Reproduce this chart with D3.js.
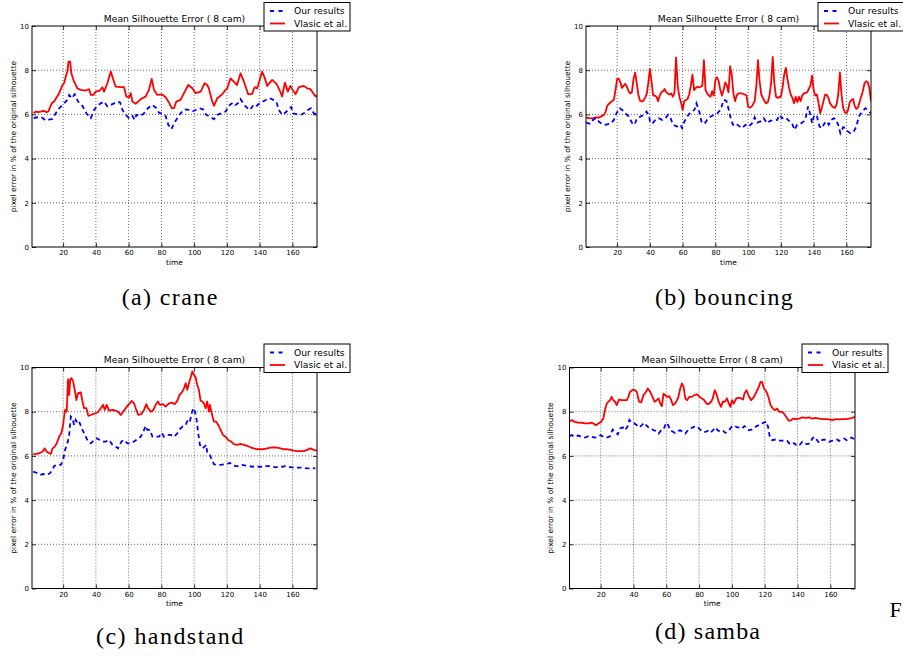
<!DOCTYPE html>
<html>
<head>
<meta charset="utf-8">
<script src="https://cdn.jsdelivr.net/npm/d3@7"></script>
<style>
  body { margin: 0; background: #fff; }
  svg { display: block; }
</style>
</head>
<body>
<div id="chart"></div>
<script>
//tick labels
const xTicks = [20, 40, 60, 80, 100, 120, 140, 160];
const yTicks = [0, 2, 4, 6, 8, 10];
const seriesNames = ["Our results", "Vlasic et al."];
const titleText = "Mean Silhouette Error ( 8 cam)";
const captions = ["(a) crane", "(b) bouncing", "(c) handstand", "(d) samba"];

//values: [frame, error]
const craneOurs = [[2,5.83],[4.3,5.87],[6.8,5.87],[9.4,5.72],[12.1,5.78],[13.5,5.8],[15.5,6.05],[17.6,6.28],[20.6,6.5],[22.6,6.66],[23.7,6.88],[25.3,6.73],[27.1,6.91],[29.1,6.58],[31.8,6.39],[34.2,6.05],[36.9,5.83],[38.9,6.2],[40.9,6.39],[43,6.5],[45,6.58],[47,6.36],[49.1,6.43],[51.1,6.5],[53.1,6.58],[54.8,6.54],[56.2,6.2],[58.2,5.98],[60.2,5.83],[62.3,5.93],[63.7,5.75],[64.7,5.98],[67.4,5.93],[69.4,6.05],[71.8,6.28],[74.5,6.43],[76.9,6.28],[78.5,6.08],[81,6.02],[82.6,5.93],[84.2,5.53],[86.1,5.33],[87.7,5.6],[89.7,5.83],[91.7,6.05],[94.2,6.23],[96.8,6.2],[98.9,6.13],[100.9,6.2],[103.3,6.28],[105.4,6.23],[107.4,5.98],[109.6,5.9],[112.1,5.78],[114.1,5.98],[116.5,6.05],[119.2,6.13],[121.2,6.39],[123.7,6.54],[125.3,6.43],[126.7,6.5],[128.3,6.69],[130,6.5],[131.8,6.33],[134,6.2],[135.9,6.39],[137.5,6.33],[139.5,6.48],[142,6.58],[144,6.66],[146.2,6.73],[148.3,6.66],[150.3,6.54],[151.7,6.2],[153.7,5.98],[155.8,6.08],[157.2,6.2],[159.2,6.33],[160.4,6.05],[162.9,6.0],[164.9,5.98],[167,6.05],[169.4,6.2],[171.4,6.28],[173,6.05],[175,6.0]];
const craneVlasic = [[2,6.05],[3.3,6.13],[5,6.1],[8,6.16],[10,6.1],[11,6.13],[13,6.5],[14.5,6.58],[17.6,6.96],[19.6,7.33],[20.6,7.41],[21.6,7.71],[22.6,7.94],[23.3,8.39],[24.3,8.39],[25,7.86],[26.7,7.48],[28.7,7.18],[30.8,7.11],[33.8,7.08],[35.9,7.14],[36.9,6.88],[38.5,6.88],[39.9,7.03],[42.4,7.08],[44,7.23],[45,7.03],[47,7.41],[49.1,7.94],[50.7,7.56],[52.1,7.26],[55.2,7.23],[57.2,7.23],[58.6,6.81],[60.2,6.76],[61.3,6.96],[62.3,6.58],[64.3,6.48],[67.4,6.69],[70.4,6.81],[72.4,7.11],[74.1,7.61],[75.5,7.11],[77.5,6.88],[80.2,6.91],[82.6,6.78],[84.6,6.54],[86.3,6.28],[87.7,6.28],[89.1,6.58],[91.7,6.66],[93.8,6.96],[96.4,7.33],[98.9,7.18],[100.9,6.96],[104,7.03],[106.4,7.41],[108,7.33],[109,7.18],[110.7,6.66],[112.1,6.39],[114.1,6.73],[116.7,6.88],[119.2,7.11],[120.2,7.18],[122.2,7.63],[124.2,7.48],[126.2,7.33],[128.3,7.86],[130.4,7.48],[133,6.91],[135.4,6.93],[136.9,7.23],[138.5,7.18],[141.5,7.94],[143.2,7.63],[144.6,7.29],[147.6,7.56],[150.3,7.38],[152.3,7.08],[153.7,6.81],[155.4,7.44],[157.2,7.03],[158.8,7.29],[160.2,7.11],[161.9,6.91],[163.9,7.23],[167,7.29],[169,7.18],[171,7.14],[174.1,6.81],[175,6.84]];

const bouncingOurs = [[1,5.63],[3.7,5.57],[5.3,5.75],[6.8,5.83],[8.8,5.68],[10.8,5.56],[12.9,5.53],[14.9,5.57],[16.3,5.6],[18,5.75],[19.6,6.05],[21.6,6.28],[23.1,6.2],[25.1,6.05],[27.1,5.9],[29.2,5.6],[30.6,5.53],[32.2,5.83],[34.2,5.9],[36.3,5.98],[37.9,6.13],[39.3,5.98],[40.3,5.6],[42,5.63],[43.4,5.75],[45.4,5.83],[47.5,5.75],[49.5,5.83],[51.1,5.98],[52.6,5.83],[54.2,5.53],[56.6,5.45],[58.7,5.53],[59.7,5.38],[61.1,5.68],[62.7,5.9],[65.2,6.13],[67.2,6.2],[68.4,6.5],[69.9,6.2],[71.5,5.68],[73.3,5.57],[74.9,5.75],[77,5.9],[79,5.98],[81.1,6.05],[83.1,6.2],[85.1,6.66],[86.7,6.61],[88.2,6.2],[89.6,5.75],[90.8,5.53],[92.2,5.6],[94.3,5.48],[96.3,5.38],[98.3,5.53],[100.4,5.45],[102.4,5.6],[104,5.87],[105.5,5.63],[107.5,5.68],[109.5,5.83],[111.6,5.6],[113.6,5.72],[115.6,5.72],[117.7,5.75],[119.1,5.98],[120.7,5.83],[122.7,5.87],[124.8,5.72],[126.8,5.6],[128.3,5.3],[129.9,5.53],[131.9,5.57],[133.9,5.68],[135.3,5.9],[136.6,6.36],[138,5.98],[139,5.6],[140.4,5.98],[142,5.9],[143.6,5.45],[145.1,5.38],[146.6,5.6],[148.2,5.68],[149.2,5.53],[150.6,5.75],[152.3,5.83],[153.7,5.78],[155.3,5.45],[156.3,5.15],[158,5.42],[159.4,5.38],[160.8,5.23],[162.4,5.15],[164.5,5.23],[166.1,5.45],[167.5,5.9],[169.6,6.13],[171.6,6.28],[173,6.2],[175,6.05]];
const bouncingVlasic = [[1,5.85],[3,5.83],[5,5.82],[7,5.87],[9,5.86],[10,5.9],[12,5.98],[13,6.13],[14,6.4],[16,6.55],[18,6.66],[19,7.1],[20,7.6],[21,7.62],[22,7.45],[23,7.2],[24,7.3],[25,7.38],[26,7.25],[27,7.05],[28,6.95],[29,7.0],[30,7.6],[31,7.89],[32,7.4],[33,6.88],[34,6.62],[35,6.58],[36,6.62],[37,6.75],[38,6.9],[39,7.4],[40,8.06],[41,7.5],[42,6.85],[43,6.85],[44,6.8],[45,6.6],[46,6.85],[47,7.0],[48,7.05],[49,7.15],[50,7.0],[51,6.95],[52,6.9],[53,6.95],[54,6.8],[55,6.95],[56,8.58],[57,7.3],[58,6.8],[59,6.55],[60,6.2],[61,6.6],[62,6.65],[63,6.7],[64,6.9],[65,7.3],[66,7.8],[67,7.1],[68,7.2],[69,7.25],[70,7.22],[71,7.25],[72,7.3],[73,8.46],[74,7.1],[75,6.95],[76,6.85],[77,6.8],[78,7.05],[79,6.85],[80,7.55],[81,7.68],[82,7.5],[83,7.1],[84,6.85],[85,7.1],[86,7.45],[87,7.3],[88,7.0],[89,8.18],[90,7.8],[91,6.95],[92,6.6],[93,6.85],[94,6.95],[96,6.95],[98,6.9],[99,6.85],[100,6.35],[101,6.3],[102,6.35],[103,6.45],[104,6.6],[105,7.3],[106,8.45],[107,7.5],[108,6.9],[109,6.75],[110,6.6],[111,6.5],[112,6.55],[113,6.85],[114,7.4],[115,8.6],[116,7.4],[117,6.8],[118,6.75],[119,6.78],[120,6.8],[121,7.2],[122,7.8],[123,8.1],[124,7.6],[125,7.2],[126,6.9],[127,6.75],[128,6.5],[129,6.8],[130,6.55],[131,6.8],[132,6.6],[133,6.85],[134,6.95],[136,7.0],[137,7.15],[138,7.3],[139,7.75],[140,7.1],[141,6.85],[142,6.9],[143,6.5],[144,6.05],[145,6.3],[146,6.6],[147,6.9],[148,6.88],[149,6.75],[150,6.5],[151,6.4],[152,6.32],[153,6.3],[154,6.45],[155,6.9],[156,7.9],[157,6.9],[158,6.3],[159,6.1],[160,6.05],[161,6.2],[162,6.55],[163,6.65],[164,6.7],[165,6.4],[166,6.25],[167,6.3],[168,6.55],[169,6.8],[170,7.05],[171,7.4],[172,7.5],[173,7.45],[174,7.2],[175,6.6]];

const handstandOurs = [[1.7,5.29],[3.7,5.24],[5.8,5.14],[7.8,5.18],[9.8,5.14],[11.9,5.21],[13.5,5.36],[14.5,5.54],[16.5,5.59],[18.6,5.59],[20,5.82],[21.2,6.27],[22.6,6.57],[23.7,6.95],[24.7,7.78],[25.7,7.7],[26.7,7.4],[27.7,7.63],[28.7,7.48],[29.8,7.55],[30.8,7.36],[31.8,7.18],[33.8,6.87],[35.2,6.65],[36.9,6.57],[38.9,6.72],[40.5,6.8],[42.4,6.72],[44,6.65],[46,6.65],[48,6.72],[50.1,6.5],[52.1,6.42],[53.5,6.34],[55.6,6.65],[57.2,6.72],[59.2,6.57],[61.3,6.57],[63.3,6.65],[65.3,6.75],[67.4,6.87],[69,7.1],[70.4,7.36],[71.4,7.18],[73,7.18],[74.5,6.87],[76.5,6.87],[78.5,6.87],[80.2,7.05],[81.6,6.87],[83.6,6.95],[85.7,6.95],[87.7,6.87],[89.7,7.02],[91.7,7.25],[93.4,7.36],[94.8,7.4],[96.2,7.63],[97.4,7.55],[98.5,7.93],[99.5,8.16],[100.5,8.01],[101.5,7.63],[102.5,7.02],[103.5,6.5],[105,6.34],[106.4,6.42],[107.4,6.5],[108,6.12],[109.6,6.04],[110.4,5.89],[112.1,5.62],[114.1,5.59],[116.1,5.59],[118.2,5.62],[120.2,5.63],[121.8,5.69],[123.3,5.59],[125.3,5.54],[127.3,5.54],[129.3,5.59],[131.4,5.56],[133.4,5.54],[135.4,5.51],[137.5,5.54],[139.5,5.51],[141.5,5.51],[143.6,5.54],[145.6,5.54],[147.6,5.51],[149.7,5.48],[151.7,5.51],[153.7,5.51],[155.8,5.54],[157.8,5.51],[159.8,5.48],[161.9,5.47],[163.9,5.47],[165.9,5.47],[168,5.45],[170,5.44],[172,5.45],[174,5.44]];
const handstandVlasic = [[1.7,6.07],[3.3,6.09],[5.4,6.12],[7.4,6.19],[8.8,6.34],[10,6.19],[11.5,6.12],[12.5,6.09],[13.5,6.34],[14.9,6.42],[16.1,6.57],[17.6,6.87],[19,7.05],[20,7.4],[20.6,7.78],[21.2,8.08],[22.2,8.0],[23,9.47],[23.7,8.76],[24.3,9.44],[25.1,9.52],[26.1,9.37],[27.1,8.99],[28.1,8.53],[29.1,8.84],[30.8,8.87],[31.8,8.46],[32.8,8.16],[34.2,8.16],[35.4,7.81],[36.9,7.85],[38.5,7.9],[39.9,7.93],[41.5,8.0],[43,8.16],[44.4,8.31],[45.4,8.08],[46.6,8.31],[48,8.05],[50.1,8.08],[52.1,8.05],[53.5,8.0],[55.2,7.85],[56.6,8.0],[58.2,8.16],[59.8,8.31],[61.9,8.49],[63.3,8.38],[64.7,8.08],[65.9,7.85],[67.8,7.9],[69.4,8.08],[70.8,8.34],[71.8,8.16],[73.5,8.0],[75.1,8.08],[76.5,8.31],[77.9,8.46],[79.1,8.31],[81,8.34],[82.6,8.23],[84.6,8.38],[86.7,8.41],[88.1,8.34],[89.7,8.49],[91.1,8.76],[92.8,8.91],[93.8,9.06],[94.8,9.29],[95.8,8.99],[96.8,9.29],[97.8,9.52],[98.9,9.82],[99.9,9.67],[100.9,9.56],[101.9,9.21],[102.9,8.99],[103.9,8.5],[105,8.46],[106,8.38],[107,8.16],[108,8.46],[109,8.0],[109.6,8.31],[110.7,7.93],[112.1,7.55],[113.5,7.55],[114.7,7.4],[116.1,7.18],[117.6,6.95],[119.2,6.87],[120.8,6.72],[122.6,6.65],[124.3,6.53],[126.3,6.5],[128.3,6.54],[130.4,6.5],[132.4,6.45],[134.4,6.39],[136.5,6.34],[138.5,6.3],[140.5,6.3],[142.6,6.31],[144.6,6.34],[146.6,6.37],[148.7,6.39],[150.7,6.37],[152.7,6.34],[154.8,6.3],[156.8,6.3],[158.8,6.27],[160.9,6.24],[162.9,6.22],[164.9,6.22],[167,6.22],[169,6.27],[171,6.34],[173,6.27],[175,6.24]];

const sambaOurs = [[1,6.89],[2.3,6.94],[4.3,6.86],[6.3,6.92],[8.4,6.86],[10.4,6.83],[12.5,6.89],[14.5,6.86],[16.5,6.83],[18.6,6.86],[20,6.94],[21.6,6.86],[23.7,6.83],[25.7,6.89],[27.3,7.19],[28.8,7.09],[30.4,6.97],[31.8,7.24],[33.5,7.29],[34.9,7.16],[36.5,7.35],[37.5,7.63],[39,7.5],[40.6,7.47],[42,7.39],[43.6,7.29],[45.1,7.39],[46.5,7.5],[47.7,7.39],[49.1,7.29],[50.8,7.24],[52.2,7.16],[53.6,7.13],[55.3,7.01],[56.9,7.16],[58.3,7.19],[59.3,7.39],[60.4,7.5],[61.4,7.35],[62.4,7.16],[64,7.09],[65.4,7.04],[67.1,7.13],[68.5,7.16],[70.1,7.09],[71.6,7.01],[73.2,7.16],[74.6,7.24],[76.2,7.29],[77.7,7.35],[79.3,7.29],[80.7,7.19],[82.2,7.09],[83.8,7.09],[85.4,7.13],[86.8,7.04],[88.5,7.16],[89.9,7.29],[91.3,7.16],[93,7.09],[94.6,7.13],[96,7.04],[97.6,7.13],[99.1,7.24],[100.1,7.35],[101.7,7.35],[103.1,7.29],[104.8,7.29],[106.2,7.24],[107.6,7.35],[108.9,7.29],[110.3,7.16],[111.9,7.19],[113.4,7.24],[115,7.35],[116.4,7.39],[117.8,7.47],[119.5,7.5],[120.9,7.56],[122.1,7.29],[123.1,6.83],[124.5,6.71],[126.6,6.74],[128.2,6.71],[130,6.68],[131.7,6.71],[133.7,6.68],[135.3,6.53],[136.8,6.59],[138.2,6.56],[139.8,6.44],[141.2,6.49],[142.9,6.64],[144.3,6.56],[145.9,6.53],[147.6,6.56],[149,6.79],[150.4,6.86],[151.6,6.74],[153.1,6.59],[154.7,6.71],[156.1,6.74],[157.8,6.71],[159.2,6.64],[160.8,6.68],[162.2,6.71],[163.9,6.74],[165.3,6.68],[166.9,6.74],[168.4,6.79],[170,6.71],[171.4,6.74],[172.8,6.83],[175,6.74]];
const sambaVlasic = [[1,7.54],[2.3,7.62],[4.3,7.54],[6.3,7.51],[8.4,7.5],[10.4,7.47],[12.5,7.47],[14.5,7.5],[15.5,7.47],[17.1,7.39],[18.6,7.47],[20.2,7.54],[21.6,7.69],[22.6,8.07],[23.7,8.37],[24.7,8.45],[25.7,8.52],[26.7,8.67],[27.7,8.52],[28.8,8.45],[29.8,8.3],[31.2,8.55],[32.8,8.52],[34.5,8.52],[35.9,8.52],[36.9,8.67],[37.9,8.9],[39.6,9.0],[41,8.97],[42,8.9],[43.4,8.45],[44.7,8.42],[46.1,8.75],[47.7,8.9],[48.7,9.05],[50.2,8.9],[51.6,8.67],[52.8,8.45],[54.2,8.52],[55.3,8.6],[56.3,8.37],[57.3,8.25],[58.3,8.82],[59.3,8.75],[60.4,8.67],[61.8,8.7],[63,8.52],[64,8.3],[65.4,8.37],[67.1,8.6],[68.5,9.05],[69.5,9.28],[70.5,9.13],[71.6,8.6],[72.6,8.52],[74,8.67],[75.6,8.67],[77.1,8.75],[78.7,8.79],[80.3,8.67],[81.7,8.6],[83.2,8.52],[84.4,8.37],[85.8,8.34],[87.3,8.45],[88.3,8.6],[89.5,8.97],[90.5,8.82],[91.9,8.45],[93.4,8.22],[94.4,8.45],[95.6,8.45],[97,8.6],[98.1,8.37],[99.1,8.22],[100.1,8.52],[101.1,8.37],[102.7,8.6],[104.2,8.64],[105.6,8.6],[106.8,8.55],[107.6,8.82],[108.9,8.97],[110.3,8.7],[111.7,8.52],[113.4,8.67],[114.4,8.82],[115.4,8.97],[116.4,9.13],[117.4,9.35],[118.4,9.35],[119.5,9.05],[120.5,8.97],[121.5,8.82],[122.5,8.6],[123.5,8.3],[124.9,8.14],[126.1,8.07],[127.5,8.14],[128.9,7.99],[130.6,7.99],[131.6,7.92],[133,7.77],[134.7,7.59],[136.2,7.62],[137.4,7.69],[138.8,7.66],[140.9,7.69],[142.9,7.74],[144.9,7.72],[147,7.74],[149,7.69],[151,7.72],[153.1,7.69],[155.1,7.66],[157.2,7.66],[159.2,7.65],[161.2,7.62],[163.3,7.66],[165.3,7.65],[167.3,7.66],[169.4,7.66],[171.4,7.69],[173.5,7.72],[175,7.77]];

//panel layout (plot box in page pixels) and caption placement
const panels = [
    {x: 32, y: 26, w: 285, h: 221, ours: craneOurs, vlasic: craneVlasic,
     cap: captions[0], capX: 121.7, capY: 305, capW: 95.6},
    {x: 586, y: 26, w: 285, h: 221, ours: bouncingOurs, vlasic: bouncingVlasic,
     cap: captions[1], capX: 655, capY: 305, capW: 137.7},
    {x: 32, y: 367.5, w: 285, h: 221, ours: handstandOurs, vlasic: handstandVlasic,
     cap: captions[2], capX: 96, capY: 644.3, capW: 147.3},
    {x: 569.5, y: 367.5, w: 285.5, h: 221, ours: sambaOurs, vlasic: sambaVlasic,
     cap: captions[3], capX: 655, capY: 638.7, capW: 105}
];

const width = 903, height = 657;
const sansFont = "'DejaVu Sans', sans-serif";
const serifFont = "'Liberation Serif', 'DejaVu Serif', serif";

const svg = d3.select("#chart").append("svg")
    .attr("width", width)
    .attr("height", height);

svg.append("rect")
    .attr("width", width)
    .attr("height", height)
    .attr("fill", "#fff");

//draw one subplot
function drawPanel(p, i) {
    const g = svg.append("g")
        .attr("transform", "translate(" + p.x + "," + p.y + ")");

    const x = d3.scaleLinear().domain([1, 175]).range([0, p.w]);
    const y = d3.scaleLinear().domain([0, 10]).range([p.h, 0]);

    //dotted grid
    g.append("g").selectAll("line")
        .data(xTicks)
        .enter().append("line")
        .attr("x1", function(d){ return x(d); })
        .attr("x2", function(d){ return x(d); })
        .attr("y1", 0)
        .attr("y2", p.h)
        .attr("stroke", "#000")
        .attr("stroke-width", 0.6)
        .attr("stroke-dasharray", "1,2");

    g.append("g").selectAll("line")
        .data(yTicks.slice(1, -1))
        .enter().append("line")
        .attr("x1", 0)
        .attr("x2", p.w)
        .attr("y1", function(d){ return y(d); })
        .attr("y2", function(d){ return y(d); })
        .attr("stroke", "#000")
        .attr("stroke-width", 0.6)
        .attr("stroke-dasharray", "1,2");

    //clip lines to plot box
    const clipId = "clip" + i;
    g.append("clipPath").attr("id", clipId)
        .append("rect").attr("width", p.w).attr("height", p.h);

    const line = d3.line()
        .x(function(d){ return x(d[0]); })
        .y(function(d){ return y(d[1]); });

    const lines = g.append("g").attr("clip-path", "url(#" + clipId + ")");

    lines.append("path")
        .attr("d", line(p.vlasic))
        .attr("fill", "none")
        .attr("stroke", "#ff0000")
        .attr("stroke-width", 1.8)
        .attr("stroke-linejoin", "round");

    lines.append("path")
        .attr("d", line(p.ours))
        .attr("fill", "none")
        .attr("stroke", "#0000ff")
        .attr("stroke-width", 1.8)
        .attr("stroke-dasharray", "4.5,3.5");

    //axes with inward ticks
    g.append("g")
        .attr("transform", "translate(0," + p.h + ")")
        .call(d3.axisBottom(x).tickValues(xTicks).tickSizeInner(-4).tickSizeOuter(0).tickPadding(3.5));
    g.append("g")
        .call(d3.axisLeft(y).tickValues(yTicks).tickSizeInner(-4).tickSizeOuter(0).tickPadding(3));
    g.append("g")
        .call(d3.axisTop(x).tickValues(xTicks).tickSizeInner(-4).tickSizeOuter(0).tickFormat(""));
    g.append("g")
        .attr("transform", "translate(" + p.w + ",0)")
        .call(d3.axisRight(y).tickValues(yTicks).tickSizeInner(-4).tickSizeOuter(0).tickFormat(""));

    g.selectAll(".domain").remove();
    g.selectAll(".tick line").attr("stroke", "#000").attr("stroke-width", 0.8);
    g.selectAll(".tick text")
        .attr("font-family", sansFont)
        .attr("font-size", "7px")
        .attr("fill", "#000");

    //frame
    g.append("rect")
        .attr("width", p.w)
        .attr("height", p.h)
        .attr("fill", "none")
        .attr("stroke", "#000")
        .attr("stroke-width", 1);

    //title and axis labels
    g.append("text")
        .attr("x", p.w / 2)
        .attr("y", -4.5)
        .attr("text-anchor", "middle")
        .attr("font-family", sansFont)
        .attr("font-size", "9.2px")
        .text(titleText);

    g.append("text")
        .attr("x", p.w / 2)
        .attr("y", p.h + 17.5)
        .attr("text-anchor", "middle")
        .attr("font-family", sansFont)
        .attr("font-size", "7.5px")
        .text("time");

    g.append("text")
        .attr("transform", "translate(-16.5," + (p.h / 2) + ") rotate(-90)")
        .attr("text-anchor", "middle")
        .attr("font-family", sansFont)
        .attr("font-size", "7.5px")
        .text("pixel error in % of the original silhouette");

    //legend box over the top right corner
    const lg = g.append("g")
        .attr("transform", "translate(" + (p.w - 53) + ",-23.5)");
    lg.append("rect")
        .attr("width", 86)
        .attr("height", 28.5)
        .attr("fill", "#fff")
        .attr("stroke", "#000")
        .attr("stroke-width", 1);
    lg.append("line")
        .attr("x1", 6).attr("x2", 18.5)
        .attr("y1", 8.5).attr("y2", 8.5)
        .attr("stroke", "#0000ff")
        .attr("stroke-width", 1.8)
        .attr("stroke-dasharray", "4,4.5");
    lg.append("line")
        .attr("x1", 6).attr("x2", 21)
        .attr("y1", 21).attr("y2", 21)
        .attr("stroke", "#ff0000")
        .attr("stroke-width", 1.8);
    lg.selectAll("text")
        .data(seriesNames)
        .enter().append("text")
        .attr("x", 30)
        .attr("y", function(d, k){ return 11.8 + k * 12.6; })
        .attr("font-family", sansFont)
        .attr("font-size", "9.2px")
        .text(function(d){ return d; });

    //caption under the subplot
    svg.append("text")
        .attr("x", p.capX)
        .attr("y", p.capY)
        .attr("font-family", serifFont)
        .attr("font-size", "24px")
        .attr("textLength", p.capW)
        .attr("lengthAdjust", "spacing")
        .text(p.cap);
}

panels.forEach(drawPanel);

//start of the figure caption at the right page edge
svg.append("text")
    .attr("x", 889.5)
    .attr("y", 616.7)
    .attr("font-family", serifFont)
    .attr("font-size", "22px")
    .text("F");
</script>
</body>
</html>
